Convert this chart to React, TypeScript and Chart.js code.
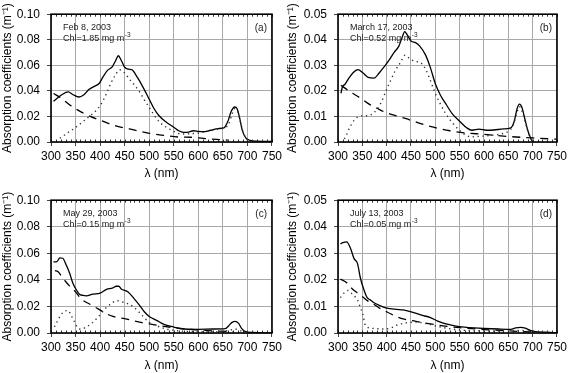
import React, { useEffect, useRef } from "react";
import { Chart, registerables } from "chart.js";

Chart.register(...registerables);

const FONT = "'Liberation Sans', Arial, Helvetica, sans-serif";

type Pt = [number, number];

// ---- axis ticks ----
const wavelengthTicks = [300, 350, 400, 450, 500, 550, 600, 650, 700, 750];
const minorTickStep = 10;
const yTicksHigh = [0, 0.02, 0.04, 0.06, 0.08, 0.1];
const yTicksLow = [0, 0.01, 0.02, 0.03, 0.04, 0.05];

// ---- panel (a) Feb 8, 2003 ----
const aTotal: Pt[] = [
  [305, 0.0318], [312, 0.034], [322, 0.037], [335, 0.0392], [345, 0.037], [357, 0.0352],
  [367, 0.037], [377, 0.041], [388, 0.0435], [398, 0.0458], [406, 0.051], [415, 0.056],
  [425, 0.059], [432, 0.064], [437, 0.0675], [443, 0.064], [450, 0.0585], [458, 0.057],
  [465, 0.0565], [472, 0.053], [480, 0.048], [490, 0.041], [500, 0.0335], [510, 0.026],
  [520, 0.0205], [535, 0.0155], [550, 0.0115], [560, 0.0088], [570, 0.0076], [580, 0.0078],
  [590, 0.0088], [600, 0.0083], [610, 0.0081], [625, 0.0092], [640, 0.0105], [652, 0.011],
  [660, 0.016], [667, 0.024], [674, 0.0274], [679, 0.026], [684, 0.019], [690, 0.0085],
  [697, 0.003], [705, 0.0013], [720, 0.0007], [750, 0.0004],
];
const aCdom: Pt[] = [
  [305, 0.038], [320, 0.0345], [340, 0.0285], [360, 0.0238], [380, 0.02], [400, 0.017],
  [430, 0.0128], [460, 0.0102], [500, 0.0068], [530, 0.0052], [560, 0.0039], [585, 0.0037],
  [610, 0.0028], [637, 0.002], [660, 0.0015],
];
const aPhyto: Pt[] = [
  [318, 0.003], [324, 0.0045], [335, 0.0075], [345, 0.01], [362, 0.015], [378, 0.02],
  [389, 0.0235], [402, 0.0296], [413, 0.038], [422, 0.046], [430, 0.0517], [440, 0.0565],
  [450, 0.054], [460, 0.049], [470, 0.0445], [480, 0.0395], [490, 0.033], [500, 0.027],
  [510, 0.021], [520, 0.016], [535, 0.0115], [555, 0.0075], [565, 0.0062], [580, 0.0064],
  [600, 0.007], [620, 0.0085], [640, 0.0102], [652, 0.011], [662, 0.014], [668, 0.021],
  [674, 0.026], [680, 0.024], [686, 0.015], [692, 0.007], [700, 0.0015],
];

// ---- panel (b) March 17, 2003 ----
const bTotal: Pt[] = [
  [306, 0.019], [309, 0.0215], [314, 0.0225], [321, 0.0246], [331, 0.0271], [341, 0.0283],
  [351, 0.0271], [362, 0.0253], [374, 0.025], [385, 0.0271], [395, 0.0295], [405, 0.032],
  [415, 0.035], [425, 0.0375], [432, 0.041], [437, 0.0432], [442, 0.042], [450, 0.0395],
  [460, 0.0388], [468, 0.0375], [480, 0.034], [490, 0.029], [500, 0.0228], [510, 0.0185],
  [520, 0.0154], [535, 0.011], [550, 0.0081], [565, 0.0055], [575, 0.0046], [590, 0.005],
  [605, 0.0046], [620, 0.0047], [640, 0.0051], [655, 0.0055], [662, 0.008], [668, 0.013],
  [673, 0.0148], [678, 0.0135], [684, 0.009], [690, 0.0045], [696, 0.0015], [700, 0.0],
];
const bCdom: Pt[] = [
  [306, 0.0222], [320, 0.0203], [335, 0.0185], [350, 0.0167], [364, 0.0148], [380, 0.0132],
  [395, 0.0118], [420, 0.0102], [440, 0.0091], [470, 0.0072], [500, 0.0056], [530, 0.0044],
  [560, 0.0036], [600, 0.003], [640, 0.0023], [680, 0.0018], [710, 0.0015], [750, 0.0011],
];
const bPhyto: Pt[] = [
  [313, 0.0012], [318, 0.003], [324, 0.0056], [334, 0.0087], [347, 0.0102], [361, 0.0103],
  [374, 0.0115], [388, 0.0152], [398, 0.0197], [408, 0.024], [418, 0.028], [428, 0.031],
  [438, 0.034], [448, 0.0325], [460, 0.0315], [470, 0.031], [480, 0.0285], [490, 0.024],
  [500, 0.019], [510, 0.015], [520, 0.0115], [535, 0.0075], [550, 0.0045], [565, 0.0025],
  [575, 0.002], [590, 0.0022], [610, 0.0025], [630, 0.003], [650, 0.0042], [660, 0.0065],
  [667, 0.011], [673, 0.0138], [680, 0.011], [686, 0.007], [693, 0.0025], [700, 0.0005],
];

// ---- panel (c) May 29, 2003 ----
const cTotal: Pt[] = [
  [305, 0.0535], [312, 0.0537], [318, 0.0566], [324, 0.0563], [331, 0.0512], [338, 0.045],
  [344, 0.038], [350, 0.0335], [358, 0.0292], [365, 0.0283], [372, 0.028], [385, 0.0292],
  [400, 0.03], [413, 0.0329], [425, 0.0338], [433, 0.0352], [438, 0.0352], [443, 0.0332],
  [457, 0.0309], [470, 0.0255], [480, 0.021], [490, 0.016], [500, 0.0125], [515, 0.0095],
  [530, 0.0065], [550, 0.0045], [565, 0.0032], [600, 0.0028], [630, 0.003], [655, 0.0033],
  [662, 0.0055], [668, 0.0078], [675, 0.0088], [682, 0.0072], [688, 0.0035], [695, 0.0012],
  [710, 0.0004], [750, 0.0001],
];
const cCdom: Pt[] = [
  [308, 0.047], [314, 0.0463], [324, 0.0414], [338, 0.0353], [350, 0.031], [362, 0.0255],
  [380, 0.0215], [396, 0.0182], [410, 0.015], [426, 0.0125], [450, 0.0108], [480, 0.0082],
  [500, 0.0068], [530, 0.005], [560, 0.0036], [600, 0.0022], [640, 0.0014], [670, 0.001],
];
const cPhyto: Pt[] = [
  [307, 0.0046], [314, 0.0096], [320, 0.0135], [326, 0.016], [335, 0.0169], [341, 0.0132],
  [348, 0.0083], [355, 0.0035], [362, 0.003], [369, 0.0039], [382, 0.0071], [396, 0.012],
  [413, 0.0193], [425, 0.0228], [433, 0.0243], [440, 0.024], [450, 0.0228], [460, 0.0215],
  [470, 0.019], [480, 0.0155], [490, 0.0115], [500, 0.008], [515, 0.0055], [530, 0.0035],
  [550, 0.002], [580, 0.0012], [620, 0.001], [650, 0.0012], [665, 0.0022], [675, 0.003],
  [685, 0.0018], [695, 0.0005],
];

// ---- panel (d) July 13, 2003 ----
const dTotal: Pt[] = [
  [305, 0.0335], [310, 0.034], [318, 0.0343], [326, 0.0317], [333, 0.028], [340, 0.0262],
  [346, 0.0207], [353, 0.0164], [360, 0.0133], [366, 0.0125], [373, 0.0115], [385, 0.0104],
  [400, 0.0094], [420, 0.0089], [434, 0.0087], [454, 0.0078], [470, 0.0068], [490, 0.0058],
  [505, 0.0045], [520, 0.0035], [540, 0.0027], [560, 0.0022], [580, 0.0019], [600, 0.0017],
  [630, 0.0015], [655, 0.0014], [665, 0.0019], [675, 0.0021], [685, 0.0018], [695, 0.001],
  [705, 0.0005], [730, 0.0003], [750, 0.0001],
];
const dCdom: Pt[] = [
  [305, 0.0203], [318, 0.0189], [330, 0.0165], [345, 0.0145], [361, 0.0121], [372, 0.011],
  [388, 0.0091], [402, 0.0078], [422, 0.006], [436, 0.0052], [460, 0.0044], [490, 0.0034],
  [520, 0.0026], [550, 0.002], [600, 0.0013], [650, 0.0008], [700, 0.0004],
];
const dPhyto: Pt[] = [
  [305, 0.0133], [312, 0.015], [321, 0.016], [330, 0.0145], [341, 0.0121], [346, 0.0095],
  [351, 0.0072], [355, 0.0035], [360, 0.0022], [375, 0.0017], [395, 0.0015], [410, 0.002],
  [421, 0.003], [440, 0.0038], [460, 0.0041], [480, 0.0036], [500, 0.0027], [530, 0.0016],
  [560, 0.001], [600, 0.0008], [650, 0.0007], [675, 0.001], [700, 0.0002],
];

interface Panel {
  left: number;
  top: number;
  width: number;
  height: number;
  plot: { l: number; t: number; r: number; b: number };
  yTicks: number[];
  date: string;
  chl: string;
  tag: string;
  total: Pt[];
  cdom: Pt[];
  phyto: Pt[];
}

const panels: Panel[] = [
  { left: 0, top: 0, width: 285, height: 181, plot: { l: 51, t: 6, r: 272, b: 142 }, yTicks: yTicksHigh,
    date: "Feb 8, 2003", chl: "Chl=1.85 mg m", tag: "(a)", total: aTotal, cdom: aCdom, phyto: aPhyto },
  { left: 285, top: 0, width: 285, height: 181, plot: { l: 53, t: 6, r: 275, b: 142 }, yTicks: yTicksLow,
    date: "March 17, 2003", chl: "Chl=0.52 mg m", tag: "(b)", total: bTotal, cdom: bCdom, phyto: bPhyto },
  { left: 0, top: 186, width: 285, height: 187, plot: { l: 51, t: 11, r: 272, b: 147 }, yTicks: yTicksHigh,
    date: "May 29, 2003", chl: "Chl=0.15 mg m", tag: "(c)", total: cTotal, cdom: cCdom, phyto: cPhyto },
  { left: 285, top: 186, width: 285, height: 187, plot: { l: 53, t: 11, r: 275, b: 147 }, yTicks: yTicksLow,
    date: "July 13, 2003", chl: "Chl=0.05 mg m", tag: "(d)", total: dTotal, cdom: dCdom, phyto: dPhyto },
];

const toXY = (pts: Pt[]) => pts.map(([x, y]) => ({ x, y }));

function makeDecor(p: Panel) {
  return {
    id: "decor",
    afterDatasetsDraw(chart: any) {
      const { ctx, chartArea } = chart;
      const xs = chart.scales.x;
      ctx.save();
      // minor ticks top & bottom
      ctx.strokeStyle = "#333";
      ctx.lineWidth = 1;
      ctx.beginPath();
      for (let v = wavelengthTicks[0]; v <= wavelengthTicks[wavelengthTicks.length - 1]; v += minorTickStep) {
        const x = Math.round(xs.getPixelForValue(v)) + 0.5;
        ctx.moveTo(x, chartArea.top);
        ctx.lineTo(x, chartArea.top + 2.5);
        ctx.moveTo(x, chartArea.bottom);
        ctx.lineTo(x, chartArea.bottom - 2.5);
      }
      ctx.stroke();
      // frame
      ctx.strokeStyle = "#000";
      ctx.lineWidth = 1.6;
      ctx.strokeRect(chartArea.left, chartArea.top, chartArea.right - chartArea.left, chartArea.bottom - chartArea.top);
      ctx.restore();
    },
    afterDraw(chart: any) {
      const { ctx, chartArea } = chart;
      ctx.save();
      ctx.fillStyle = "#222";
      ctx.textBaseline = "middle";
      ctx.textAlign = "left";
      ctx.font = `9px ${FONT}`;
      const x0 = chartArea.left + 12;
      ctx.fillText(p.date, x0, chartArea.top + 13);
      ctx.fillText(p.chl, x0, chartArea.top + 24);
      const w = ctx.measureText(p.chl).width;
      ctx.font = `6.5px ${FONT}`;
      ctx.fillText("-3", x0 + w + 0.5, chartArea.top + 21);
      ctx.font = `10px ${FONT}`;
      ctx.textAlign = "right";
      ctx.fillText(p.tag, chartArea.right - 5, chartArea.top + 14);
      ctx.restore();
    },
  };
}

function PanelChart({ p }: { p: Panel }) {
  const ref = useRef<HTMLCanvasElement | null>(null);
  useEffect(() => {
    if (!ref.current) return;
    const common = { pointRadius: 0, fill: false, cubicInterpolationMode: "monotone" as const };
    const chart = new Chart(ref.current, {
      type: "line",
      data: {
        datasets: [
          { ...common, data: toXY(p.phyto), borderColor: "#333", borderWidth: 1.4, borderDash: [1.3, 3.6] },
          { ...common, data: toXY(p.cdom), borderColor: "#000", borderWidth: 1.3, borderDash: [8, 6] },
          { ...common, data: toXY(p.total), borderColor: "#000", borderWidth: 1.3 },
        ],
      },
      options: {
        responsive: false,
        animation: false,
        events: [],
        layout: { padding: { left: 0, top: p.plot.t, right: p.width - p.plot.r, bottom: 0 } },
        plugins: { legend: { display: false }, tooltip: { enabled: false } },
        scales: {
          x: {
            type: "linear",
            min: wavelengthTicks[0],
            max: wavelengthTicks[wavelengthTicks.length - 1],
            afterBuildTicks: (s: any) => {
              s.ticks = wavelengthTicks.map((v) => ({ value: v }));
            },
            afterFit: (s: any) => {
              s.height = p.height - p.plot.b;
            },
            ticks: { font: { family: FONT, size: 12 }, color: "#000", padding: 3, maxRotation: 0, autoSkip: false },
            grid: { color: "#a8a8a8", lineWidth: 1, tickLength: 4, tickColor: "#444" },
            border: { display: false },
            title: { display: true, text: "λ (nm)", font: { family: FONT, size: 12 }, color: "#000", padding: 0 },
          },
          y: {
            type: "linear",
            min: 0,
            max: p.yTicks[p.yTicks.length - 1],
            afterBuildTicks: (s: any) => {
              s.ticks = p.yTicks.map((v) => ({ value: v }));
            },
            afterFit: (s: any) => {
              s.width = p.plot.l;
            },
            ticks: {
              font: { family: FONT, size: 12 },
              color: "#000",
              padding: 7,
              callback: (v: any) => Number(v).toFixed(2),
            },
            grid: { color: "#a8a8a8", lineWidth: 1, tickLength: 4, tickColor: "#444" },
            border: { display: false },
            title: {
              display: true,
              text: "Absorption coefficients (m⁻¹)",
              font: { family: FONT, size: 12 },
              color: "#000",
              padding: 0,
            },
          },
        },
      },
      plugins: [makeDecor(p)],
    } as any);
    return () => chart.destroy();
  }, [p]);
  return (
    <canvas
      ref={ref}
      width={p.width}
      height={p.height}
      style={{ position: "absolute", left: p.left, top: p.top, width: p.width, height: p.height }}
    />
  );
}

export default function App() {
  return (
    <div style={{ position: "fixed", left: 0, top: 0, width: 570, height: 373, background: "#fff" }}>
      {panels.map((p) => (
        <PanelChart key={p.tag} p={p} />
      ))}
    </div>
  );
}
